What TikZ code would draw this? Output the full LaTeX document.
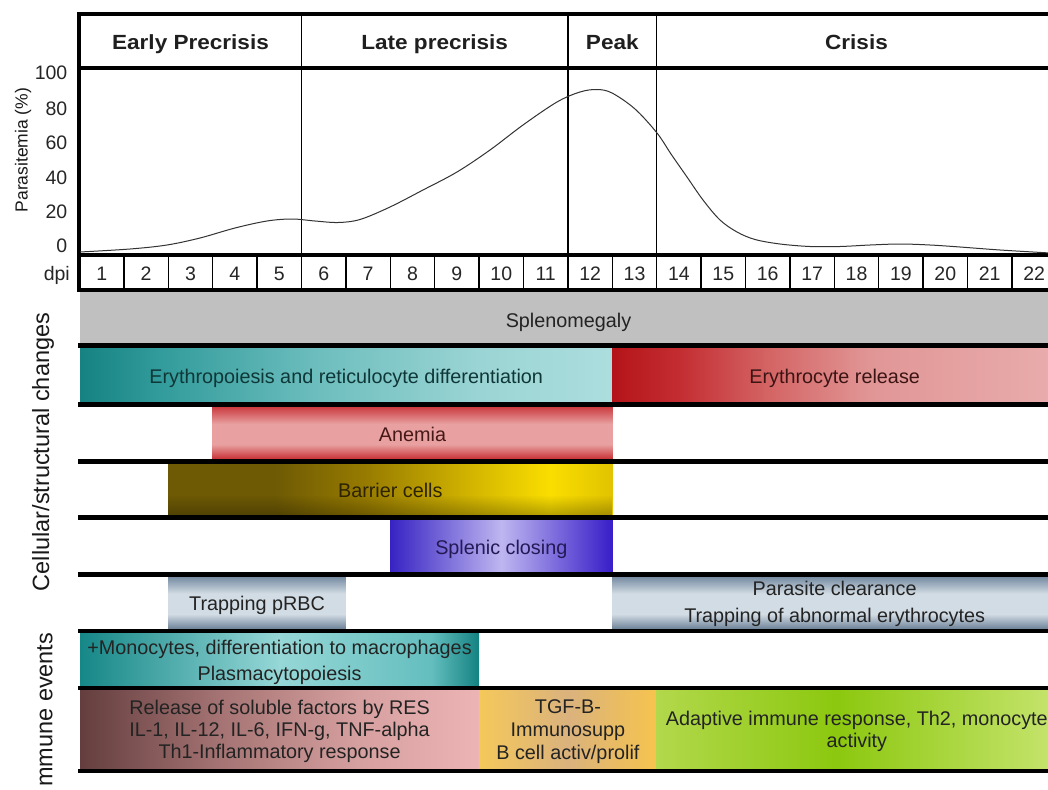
\documentclass[tikz,border=0pt]{standalone}
\usepackage{fontspec}
\setmainfont{Liberation Sans}
\newfontfamily\hdrfont[FakeStretch=1.1]{Liberation Sans}
\usetikzlibrary{fadings}
\pgfmathdeclarefunction{dx}{1}{\pgfmathparse{79.5+(#1-1)*44.4}}
% colours
\definecolor{splgray}{RGB}{192,192,192}
\definecolor{ep0}{RGB}{22,130,130}\definecolor{ep1}{RGB}{50,155,155}\definecolor{ep2}{RGB}{110,190,190}\definecolor{ep3}{RGB}{155,212,212}\definecolor{ep4}{RGB}{172,222,222}
\definecolor{er0}{RGB}{180,20,25}\definecolor{er1}{RGB}{195,45,50}\definecolor{er2}{RGB}{212,100,100}\definecolor{er3}{RGB}{225,150,150}\definecolor{er4}{RGB}{233,172,172}
\definecolor{ba0}{RGB}{110,90,5}\definecolor{ba1}{RGB}{150,122,0}\definecolor{ba2}{RGB}{215,185,0}\definecolor{ba3}{RGB}{250,222,0}\definecolor{ba4}{RGB}{225,195,0}
\definecolor{sc0}{RGB}{55,35,195}\definecolor{sc1}{RGB}{190,182,240}\definecolor{sc2}{RGB}{55,30,200}
\definecolor{mo0}{RGB}{22,135,135}\definecolor{mo1}{RGB}{150,215,215}\definecolor{mo2}{RGB}{100,190,190}\definecolor{mo3}{RGB}{20,130,130}
\definecolor{rl0}{RGB}{100,62,62}\definecolor{rl1}{RGB}{165,115,115}\definecolor{rl2}{RGB}{215,160,160}\definecolor{rl3}{RGB}{236,180,180}
\definecolor{tg0}{RGB}{245,200,90}\definecolor{tg1}{RGB}{218,178,125}\definecolor{tg2}{RGB}{246,196,78}
\definecolor{ad0}{RGB}{178,216,75}\definecolor{ad1}{RGB}{140,200,15}\definecolor{ad2}{RGB}{198,228,110}
\definecolor{an0}{RGB}{195,30,35}\definecolor{an1}{RGB}{232,160,160}\definecolor{an2}{RGB}{198,45,50}
\definecolor{tp0}{RGB}{95,118,142}\definecolor{tp1}{RGB}{210,220,228}\definecolor{tp2}{RGB}{105,128,152}
\definecolor{txtdark}{RGB}{35,35,35}
\pgfdeclarehorizontalshading{eryS}{100bp}{color(0bp)=(ep0); color(25bp)=(ep0); color(32.5bp)=(ep1); color(47.5bp)=(ep2); color(62.5bp)=(ep3); color(75bp)=(ep4); color(100bp)=(ep4)}
\pgfdeclarehorizontalshading{erelS}{100bp}{color(0bp)=(er0); color(25bp)=(er0); color(32.5bp)=(er1); color(42.5bp)=(er2); color(54bp)=(er3); color(75bp)=(er4); color(100bp)=(er4)}
\pgfdeclarehorizontalshading{barS}{100bp}{color(0bp)=(ba0); color(25bp)=(ba0); color(37bp)=(ba0); color(47bp)=(ba1); color(60bp)=(ba2); color(68bp)=(ba3); color(75bp)=(ba4); color(100bp)=(ba4)}
\pgfdeclarehorizontalshading{splS}{100bp}{color(0bp)=(sc0); color(25bp)=(sc0); color(50bp)=(sc1); color(75bp)=(sc2); color(100bp)=(sc2)}
\pgfdeclarehorizontalshading{monoS}{100bp}{color(0bp)=(mo0); color(25bp)=(mo0); color(50bp)=(mo1); color(69bp)=(mo2); color(75bp)=(mo3); color(100bp)=(mo3)}
\pgfdeclarehorizontalshading{relS}{100bp}{color(0bp)=(rl0); color(25bp)=(rl0); color(42.5bp)=(rl1); color(60bp)=(rl2); color(75bp)=(rl3); color(100bp)=(rl3)}
\pgfdeclarehorizontalshading{tgfS}{100bp}{color(0bp)=(tg0); color(25bp)=(tg0); color(50bp)=(tg1); color(75bp)=(tg2); color(100bp)=(tg2)}
\pgfdeclarehorizontalshading{adaS}{100bp}{color(0bp)=(ad0); color(25bp)=(ad0); color(47.5bp)=(ad1); color(75bp)=(ad2); color(100bp)=(ad2)}
\pgfdeclareverticalshading{anS}{100bp}{color(0bp)=(an0); color(25bp)=(an0); color(40bp)=(an1); color(58bp)=(an1); color(75bp)=(an2); color(100bp)=(an2)}
\pgfdeclareverticalshading{trS}{100bp}{color(0bp)=(tp0); color(25bp)=(tp0); color(40bp)=(tp1); color(58bp)=(tp1); color(75bp)=(tp2); color(100bp)=(tp2)}
\tikzfading[name=fadebot, top color=transparent!100, bottom color=transparent!0]
\begin{document}
\begin{tikzpicture}[x=1pt,y=-1pt,
  hdr/.style={font=\hdrfont\fontsize{20.5}{24}\selectfont\bfseries, text=black!88, inner sep=0pt, anchor=base},
  txt/.style={font=\fontsize{19.8}{22.5}\selectfont, text=txtdark, inner sep=0pt, align=center},
  btxt/.style={txt, anchor=base},
  num/.style={font=\fontsize{19.5}{22}\selectfont, text=black!85, inner sep=0pt, anchor=base},
  side/.style={font=\fontsize{23.5}{26}\selectfont, text=black!90, rotate=90, inner sep=0pt},
  sep/.style={line width=4.5pt},
  frame/.style={line width=4pt},
  thinline/.style={line width=1.3pt},
  curve/.style={line width=1pt, black!80}]
\path[use as bounding box] (0,0) rectangle (1048,789);
\begin{scope}
\clip (0,0) rectangle (1048,789);
\fill[white] (0,0) rectangle (1048,789);
% ---------- bars ----------
\fill[splgray] (80,291) rectangle (1057,345.5);
\shade[shading=eryS] (80,345.5) rectangle ({dx(13)},404.5);
\shade[shading=erelS] ({dx(13)},345.5) rectangle (1057,404.5);
\shade[shading=anS] ({dx(4)},404.5) rectangle ({dx(13)},461.5);
\shade[shading=barS] ({dx(3)},461.5) rectangle ({dx(13)},517.5);
\fill[black, opacity=0.3, path fading=fadebot] ({dx(3)},495) rectangle ({dx(13)},517.5);
\shade[shading=splS] ({dx(8)},517.5) rectangle ({dx(13)},574.5);
\shade[shading=trS] ({dx(3)},574.5) rectangle ({dx(7)},631);
\shade[shading=trS] ({dx(13)},574.5) rectangle (1057,631);
\shade[shading=monoS] (80,631) rectangle ({dx(10)},688);
\shade[shading=relS] (80,688) rectangle ({dx(10)},771);
\shade[shading=tgfS] ({dx(10)},688) rectangle ({dx(14)},771);
\shade[shading=adaS] ({dx(14)},688) rectangle (1057,771);
% ---------- separators ----------
\foreach \yy in {345.5,404.5,461.5,517.5,574.5,631,688,771}
  \draw[sep] (78,\yy) -- (1060,\yy);
% ---------- frame ----------
\draw[frame] (77,14.5) -- (1060,14.5);
\draw[frame] (77,68.5) -- (1060,68.5);
\draw[frame] (77,255) -- (1060,255);
\draw[frame] (77,290) -- (1060,290);
\draw[frame] (79,12.5) -- (79,292);
\foreach \n in {6,12,14}
  \draw[thinline] ({dx(\n)},15) -- ({dx(\n)},255);
\foreach \n in {2,...,22}
  \draw[thinline] ({dx(\n)},255) -- ({dx(\n)},290);
% ---------- headers ----------
\node[hdr] (early) at ({(dx(1)+dx(6))/2},49.5) {Early Precrisis};
\node[hdr] (late) at ({(dx(6)+dx(12))/2},49.5) {Late precrisis};
\node[hdr] (peak) at ({(dx(12)+dx(14))/2},49.5) {Peak};
\node[hdr] (crisis) at ({(dx(14)+dx(23))/2},49.5) {Crisis};
% ---------- y axis ----------
\node[side, font=\fontsize{17.5}{20}\selectfont] (ylab) at (23,150) {Parasitemia (\%)};
\foreach \v/\yb in {100/80,80/115,60/149,40/184,20/218,0/252}
  \node[num, anchor=base east] (tick\v) at (67.5,\yb) {\v};
\node[num, anchor=base east] (dpi) at (70,280) {dpi};
\foreach \n in {1,...,22}
  \node[num] (day\n) at ({(dx(\n)+dx(\n+1))/2},280) {\n};
% ---------- curve ----------
\draw[curve] plot[smooth, tension=0.55] coordinates {(80,252) (130,249) (167,245) (200,238) (235,228) (267,221) (292,219) (315,221) (338,222.5) (360,219.5) (390,207) (423,190) (457,172) (490,150) (523,125) (557,102) (580,92) (597,89.5) (612,93) (635,109) (657,133) (671,154) (687,177) (703,200) (720,220) (737,232) (755,239.5) (780,244) (810,246.5) (840,246.5) (870,245) (900,244) (930,245) (960,247) (1000,250) (1050,253)};
% ---------- bar texts ----------
\node[btxt] (splen) at ({(80+1057)/2},327) {Splenomegaly};
\node[btxt, text={rgb,255:red,15;green,55;blue,55}] (ery) at ({(80+dx(13))/2},383.5) {Erythropoiesis and reticulocyte differentiation};
\node[btxt, text={rgb,255:red,60;green,20;blue,20}] (erel) at ({(dx(13)+1057)/2},383.5) {Erythrocyte release};
\node[btxt, text={rgb,255:red,70;green,25;blue,25}] (anemia) at ({(dx(4)+dx(13))/2},441) {Anemia};
\node[btxt, text={rgb,255:red,45;green,35;blue,0}] (barrier) at ({(dx(3)+dx(13))/2},497) {Barrier cells};
\node[btxt, text={rgb,255:red,35;green,25;blue,85}] (splclose) at ({(dx(8)+dx(13))/2},554) {Splenic closing};
\node[btxt] (trap) at ({(dx(3)+dx(7))/2},610) {Trapping pRBC};
\node[txt, font=\fontsize{19.8}{26.5}\selectfont] (clear) at ({(dx(13)+1057)/2},604) {Parasite clearance\\Trapping of abnormal erythrocytes};
\node[txt, font=\fontsize{19.8}{26}\selectfont] (mono) at ({(80+dx(10))/2},662) {+Monocytes, differentiation to macrophages\\Plasmacytopoiesis};
\node[txt, font=\fontsize{19.8}{22}\selectfont] (release) at ({(80+dx(10))/2},731) {Release of soluble factors by RES\\IL-1, IL-12, IL-6, IFN-g, TNF-alpha\\Th1-Inflammatory response};
\node[txt, font=\fontsize{19.8}{23}\selectfont] (tgf) at ({(dx(10)+dx(14))/2},732) {TGF-B-\\Immunosupp\\B cell activ/prolif};
\node[txt, font=\fontsize{19.8}{22}\selectfont] (adapt) at ({(dx(14)+1057)/2},731) {Adaptive immune response, Th2, monocyte\\activity};
% ---------- side labels ----------
\node[side] (cell) at (43,452) {Cellular/structural changes};
\node[side, anchor=west] (imm) at (45,787) {mmune events};
\end{scope}
\end{tikzpicture}
\end{document}
